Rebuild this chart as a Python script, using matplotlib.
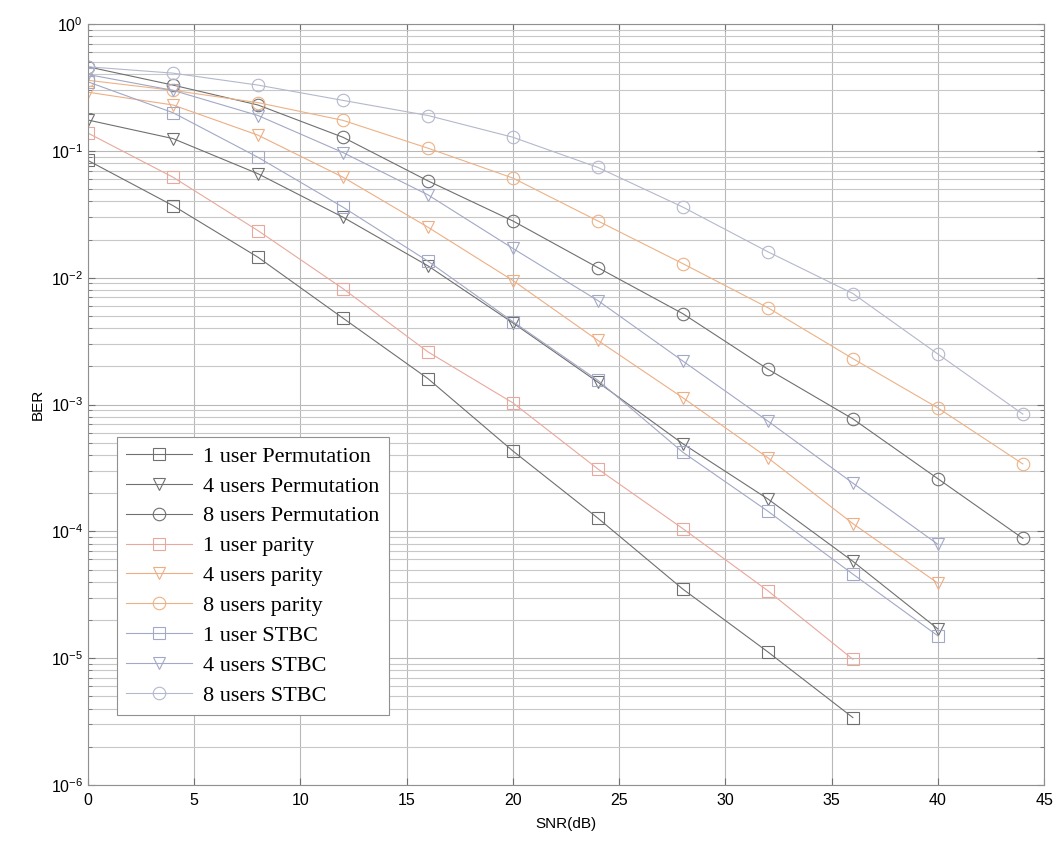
import numpy as np
import matplotlib.pyplot as plt
from matplotlib.ticker import LogLocator, NullFormatter, FixedLocator

# SNR points (dB)
snr = [0, 4, 8, 12, 16, 20, 24, 28, 32, 36, 40, 44]

# BER values
perm_1 = [0.084, 0.037, 0.0145, 0.0048, 0.0016, 4.3e-4, 1.27e-4, 3.5e-5, 1.12e-5, 3.4e-6]
perm_4 = [0.175, 0.125, 0.066, 0.030, 0.0124, 0.0044, 0.0015, 4.9e-4, 1.8e-4, 5.8e-5, 1.7e-5]
perm_8 = [0.46, 0.33, 0.23, 0.128, 0.058, 0.028, 0.012, 0.0052, 0.0019, 7.7e-4, 2.6e-4, 8.8e-5]
parity_1 = [0.138, 0.062, 0.0235, 0.0082, 0.0026, 1.03e-3, 3.1e-4, 1.05e-4, 3.4e-5, 9.8e-6]
parity_4 = [0.29, 0.23, 0.133, 0.062, 0.025, 0.0095, 0.0032, 0.00113, 3.8e-4, 1.15e-4, 3.9e-5]
parity_8 = [0.36, 0.30, 0.24, 0.174, 0.105, 0.061, 0.028, 0.0129, 0.0058, 0.0023, 9.4e-4, 3.4e-4]
stbc_1 = [0.35, 0.20, 0.089, 0.036, 0.0135, 0.0045, 0.00155, 4.2e-4, 1.44e-4, 4.6e-5, 1.5e-5]
stbc_4 = [0.40, 0.30, 0.19, 0.097, 0.045, 0.017, 0.0066, 0.0022, 7.4e-4, 2.4e-4, 7.9e-5]
stbc_8 = [0.46, 0.41, 0.33, 0.25, 0.19, 0.128, 0.074, 0.036, 0.016, 0.0075, 0.0025, 8.4e-4]

y_ticks = [1e-6, 1e-5, 1e-4, 1e-3, 1e-2, 1e-1, 1e0]
y_tick_labels = ['$10^{-6}$', '$10^{-5}$', '$10^{-4}$', '$10^{-3}$',
                 '$10^{-2}$', '$10^{-1}$', '$10^{0}$']

series = [
    (perm_1, 's', '#707070', '1 user Permutation'),
    (perm_4, 'v', '#707070', '4 users Permutation'),
    (perm_8, 'o', '#707070', '8 users Permutation'),
    (parity_1, 's', '#e9a89c', '1 user parity'),
    (parity_4, 'v', '#eeae84', '4 users parity'),
    (parity_8, 'o', '#ecb286', '8 users parity'),
    (stbc_1, 's', '#a2a8c6', '1 user STBC'),
    (stbc_4, 'v', '#a2a8c6', '4 users STBC'),
    (stbc_8, 'o', '#b4b8cc', '8 users STBC'),
]

plt.rcParams['mathtext.default'] = 'regular'
plt.rcParams['font.family'] = ['Liberation Sans', 'DejaVu Sans']
fig = plt.figure(figsize=(10.6, 8.43), dpi=100)
ax = fig.add_axes([0.083, 0.0688, 0.902, 0.9027])

for vals, mk, col, lab in series:
    ax.semilogy(snr[:len(vals)], vals, marker=mk, color=col, lw=0.8,
                ms=9, mfc='none', mec=col, mew=0.8, label=lab)

ax.set_xlim(0, 45)
ax.set_ylim(1e-6, 1)
ax.xaxis.set_major_locator(FixedLocator(range(0, 46, 5)))
ax.set_yticks(y_ticks)
ax.set_yticklabels(y_tick_labels)
ax.yaxis.set_minor_locator(LogLocator(base=10, subs=np.arange(2, 10), numticks=20))
ax.yaxis.set_minor_formatter(NullFormatter())

ax.grid(True, which='major', axis='both', color='#b8b8b8', lw=0.8)
ax.grid(True, which='minor', axis='y', color='#c8c8c8', lw=0.8)
ax.tick_params(which='both', direction='in', top=True, right=True,
               colors='#707070', labelcolor='black', labelsize=11.5)
ax.tick_params(axis='x', pad=6)
ax.tick_params(which='major', length=5)
ax.tick_params(which='minor', length=3)
for sp in ax.spines.values():
    sp.set_color('#909090')
    sp.set_linewidth(0.8)

ax.set_xlabel('SNR(dB)', fontsize=11, labelpad=6)
ax.set_ylabel('BER', fontsize=11, labelpad=4)

leg = ax.legend(loc='upper left', bbox_to_anchor=(0.030, 0.457), borderaxespad=0,
                prop={'family': 'Liberation Serif', 'size': 16}, handlelength=3.0,
                labelspacing=0.42, fancybox=False, framealpha=1, borderpad=0.4,
                handletextpad=0.5)
leg.get_frame().set_edgecolor('#909090')
leg.get_frame().set_linewidth(0.8)

fig.savefig('out.png', dpi=100)
